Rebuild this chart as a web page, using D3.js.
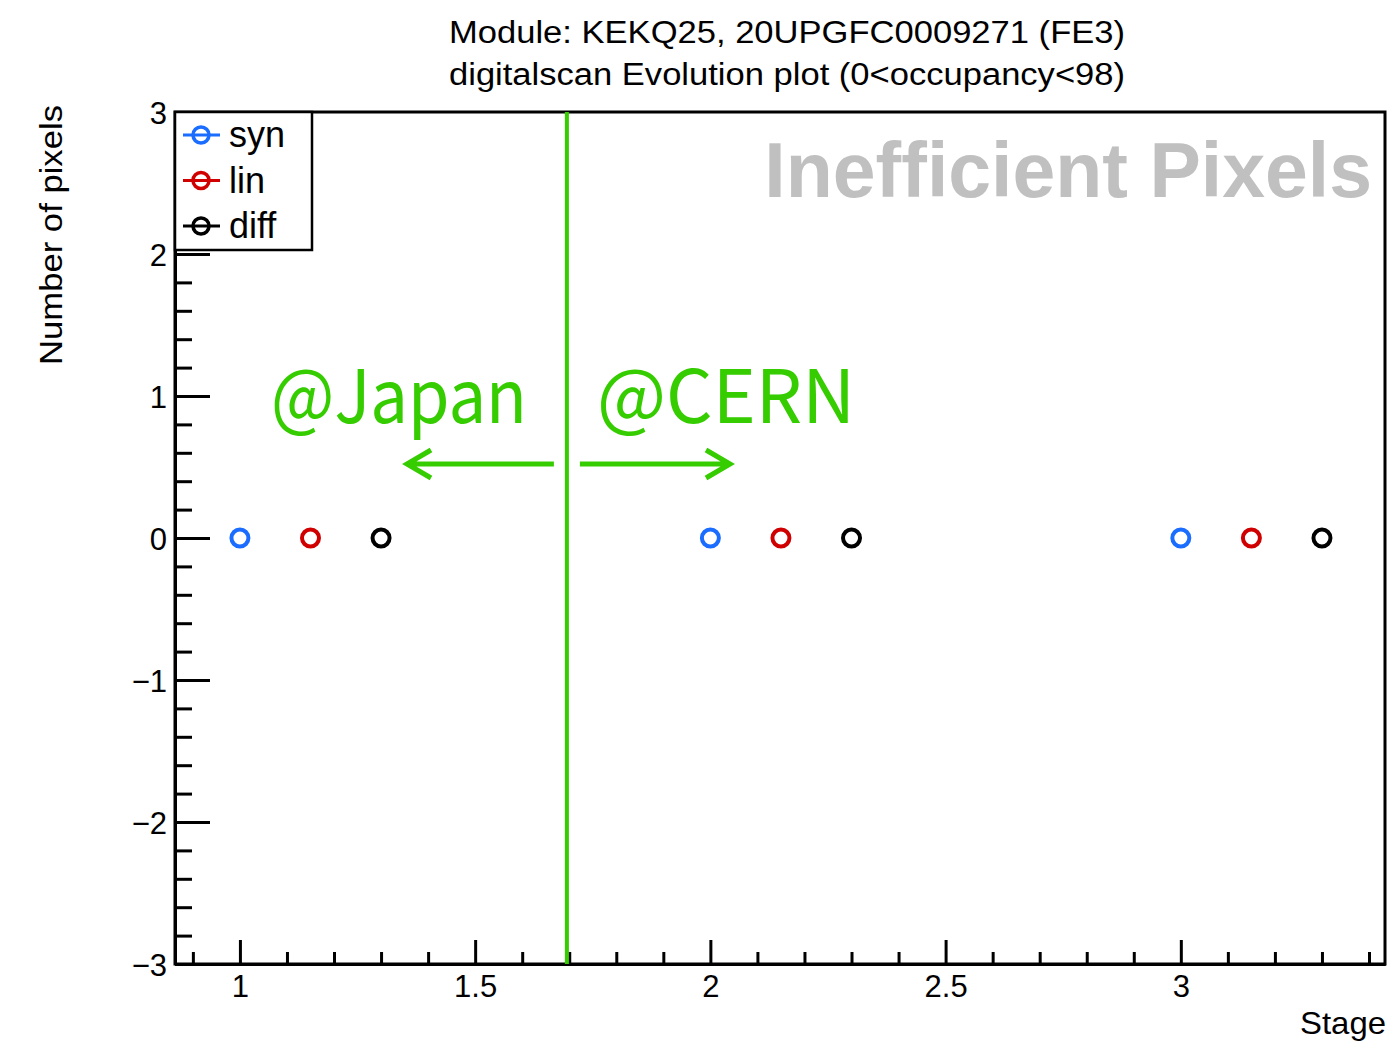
<!DOCTYPE html>
<html>
<head>
<meta charset="utf-8">
<script src="https://cdn.jsdelivr.net/npm/d3@7"></script>
<style>
  html, body { margin: 0; padding: 0; background: #ffffff; }
  svg { display: block; }
  text { font-family: "Liberation Sans", Arial, Helvetica, sans-serif; }
  text.site { font-family: "Noto Sans CJK JP", "Noto Sans", sans-serif; }
</style>
</head>
<body>
<svg id="chart" width="1389" height="1043"></svg>
<script>
// ---- data ----
const stages = [1, 2, 3];
const seriesNames = ["syn", "lin", "diff"];
const seriesColors = ["#1a6dff", "#d00000", "#000000"];
const seriesShift = [0, 0.15, 0.3];          // horizontal shift of each FE flavour within a stage
const synValues = [0, 0, 0];
const linValues = [0, 0, 0];
const diffValues = [0, 0, 0];
const xMajorTicks = [1, 1.5, 2, 2.5, 3];
const xMinorTicks = [0.9, 1.1, 1.2, 1.3, 1.4, 1.6, 1.7, 1.8, 1.9, 2.1, 2.2, 2.3, 2.4, 2.6, 2.7, 2.8, 2.9, 3.1, 3.2, 3.3, 3.4];
const yMajorTicks = [-3, -2, -1, 0, 1, 2, 3];
const yMinorTicks = [-2.8, -2.6, -2.4, -2.2, -1.8, -1.6, -1.4, -1.2, -0.8, -0.6, -0.4, -0.2,
                     0.2, 0.4, 0.6, 0.8, 1.2, 1.4, 1.6, 1.8, 2.2, 2.4, 2.6, 2.8];
const xDomain = [0.862, 3.434];
const yDomain = [-3, 3];
const siteBoundary = 1.695;                  // stage separating the two test sites

const titleLines = ["Module: KEKQ25, 20UPGFC0009271 (FE3)",
                    "digitalscan Evolution plot (0<occupancy<98)"];

const series = [synValues, linValues, diffValues].map((vals, i) => ({
  name: seriesNames[i], color: seriesColors[i], shift: seriesShift[i],
  points: stages.map((s, j) => ({ x: s + seriesShift[i], y: vals[j] }))
}));

// ---- layout ----
const frame = { left: 175, right: 1385, top: 112, bottom: 964 };
const svg = d3.select("#chart");
const x = d3.scaleLinear().domain(xDomain).range([frame.left, frame.right]);
const y = d3.scaleLinear().domain(yDomain).range([frame.bottom, frame.top]);
const green = "#35cc00";
const fmt = d3.format("~g");

// title
svg.append("g").selectAll("text").data(titleLines).join("text")
  .attr("x", 787).attr("y", (d, i) => 43 + i * 42)
  .attr("text-anchor", "middle").attr("font-size", 31).attr("fill", "#000")
  .attr("textLength", 676).attr("lengthAdjust", "spacingAndGlyphs")
  .text(d => d);

// frame
svg.append("rect")
  .attr("x", frame.left).attr("y", frame.top)
  .attr("width", frame.right - frame.left).attr("height", frame.bottom - frame.top)
  .attr("fill", "none").attr("stroke", "#000").attr("stroke-width", 3);

// y axis: ticks point into the frame
const yAxisG = svg.append("g").attr("transform", `translate(${frame.left},0)`);
yAxisG.call(d3.axisLeft(y).tickValues(yMajorTicks).tickSize(-35).tickSizeOuter(0)
  .tickPadding(8).tickFormat(fmt));
yAxisG.append("g").call(d3.axisLeft(y).tickValues(yMinorTicks).tickSize(-17)
  .tickSizeOuter(0).tickFormat(""));
yAxisG.selectAll("path.domain").attr("stroke-width", 3);
yAxisG.selectAll(".tick line").attr("stroke-width", 3);
yAxisG.selectAll(".tick text").attr("font-size", 31).attr("fill", "#000").attr("dy", "0.36em");

// x axis
const xAxisG = svg.append("g").attr("transform", `translate(0,${frame.bottom})`);
xAxisG.call(d3.axisBottom(x).tickValues(xMajorTicks).tickSize(-24).tickSizeOuter(0)
  .tickPadding(11).tickFormat(fmt));
xAxisG.append("g").call(d3.axisBottom(x).tickValues(xMinorTicks).tickSize(-12)
  .tickSizeOuter(0).tickFormat(""));
xAxisG.selectAll("path.domain").attr("stroke-width", 3);
xAxisG.selectAll(".tick line").attr("stroke-width", 3);
xAxisG.selectAll(".tick text").attr("font-size", 31).attr("fill", "#000");

// axis titles
svg.append("text").attr("x", 1386).attr("y", 1034).attr("text-anchor", "end")
  .attr("font-size", 32).attr("textLength", 86).attr("lengthAdjust", "spacingAndGlyphs")
  .text("Stage");
svg.append("text").attr("transform", "translate(62,105) rotate(-90)")
  .attr("text-anchor", "end").attr("font-size", 31)
  .attr("textLength", 260).attr("lengthAdjust", "spacingAndGlyphs").text("Number of pixels");

// "Inefficient Pixels" watermark label
svg.append("text").attr("x", 1372).attr("y", 197).attr("text-anchor", "end")
  .attr("font-size", 77).attr("font-weight", "bold").attr("fill", "#c0c0c0")
  .text("Inefficient Pixels");

// site boundary and annotations
svg.append("line")
  .attr("x1", x(siteBoundary)).attr("x2", x(siteBoundary))
  .attr("y1", frame.top).attr("y2", frame.bottom)
  .attr("stroke", green).attr("stroke-width", 4);

const ann = svg.append("g").attr("fill", green);
ann.append("text").attr("class", "site").attr("x", 271).attr("y", 423).attr("font-size", 74)
  .attr("textLength", 256).attr("lengthAdjust", "spacingAndGlyphs").text("@Japan");
ann.append("text").attr("class", "site").attr("x", 597).attr("y", 423).attr("font-size", 74)
  .attr("textLength", 258).attr("lengthAdjust", "spacingAndGlyphs").text("@CERN");

const arrowY = 464;
const arrows = [
  { from: x(siteBoundary) - 13, to: 407 },
  { from: x(siteBoundary) + 13, to: 730 }
];
arrows.forEach(a => {
  const dir = Math.sign(a.to - a.from);
  const p = d3.path();
  p.moveTo(a.from, arrowY); p.lineTo(a.to, arrowY);
  p.moveTo(a.to - dir * 24, arrowY - 14); p.lineTo(a.to, arrowY); p.lineTo(a.to - dir * 24, arrowY + 14);
  svg.append("path").attr("d", p.toString()).attr("fill", "none")
    .attr("stroke", green).attr("stroke-width", 5)
    .attr("stroke-linecap", "butt").attr("stroke-linejoin", "miter");
});

// data markers
const pts = svg.append("g");
series.forEach(s => {
  pts.append("g").selectAll("circle").data(s.points).join("circle")
    .attr("cx", d => x(d.x)).attr("cy", d => y(d.y)).attr("r", 8.5)
    .attr("fill", "none").attr("stroke", s.color).attr("stroke-width", 4);
});

// legend
const leg = svg.append("g");
leg.append("rect").attr("x", 175).attr("y", 112).attr("width", 137).attr("height", 138)
  .attr("fill", "#fff").attr("stroke", "#000").attr("stroke-width", 2.5);
const rows = leg.selectAll("g.row").data(series).join("g").attr("class", "row")
  .attr("transform", (d, i) => `translate(0,${135 + i * 45.5})`);
rows.append("line").attr("x1", 183).attr("x2", 220).attr("y1", 0).attr("y2", 0)
  .attr("stroke", d => d.color).attr("stroke-width", 3);
rows.append("circle").attr("cx", 201).attr("cy", 0).attr("r", 8)
  .attr("fill", "none").attr("stroke", d => d.color).attr("stroke-width", 3.5);
rows.append("text").attr("x", 229).attr("y", 12).attr("font-size", 36)
  .attr("fill", "#000").text(d => d.name);
</script>
</body>
</html>
